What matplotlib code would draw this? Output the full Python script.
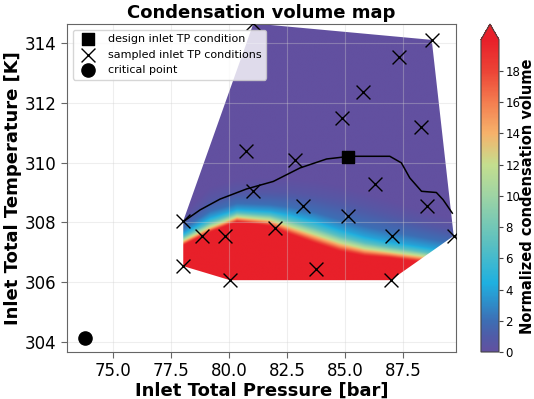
import numpy as np
import matplotlib
matplotlib.use('Agg')
import matplotlib.pyplot as plt
from matplotlib.colors import LinearSegmentedColormap
from matplotlib.patches import Polygon

# sampled inlet conditions (pressure [bar], temperature [K])
p_samp = [81.05, 88.75, 87.33, 85.78, 84.87, 88.28, 80.73, 82.84, 81.03, 86.30, 83.19, 85.13,
          88.53, 78.02, 78.84, 79.83, 81.98, 87.03, 89.70, 78.02, 80.04, 83.75, 86.98]
T_samp = [314.65, 314.10, 313.53, 312.35, 311.50, 311.20, 310.40, 310.07, 309.06, 309.30, 308.55, 308.20,
          308.55, 308.05, 307.55, 307.55, 307.80, 307.55, 307.55, 306.54, 306.07, 306.44, 306.07]

p_design, T_design = 85.15, 310.20
p_crit, T_crit = 73.77, 304.13

# black line through the design point
line_p = [78.03, 78.75, 79.61, 80.76, 81.91, 83.06, 84.21, 85.22, 86.94, 87.44, 87.80, 88.31, 88.95, 89.24, 89.64]
line_T = [308.03, 308.42, 308.78, 309.12, 309.37, 309.82, 310.12, 310.21, 310.21, 309.99, 309.49, 309.04, 309.00, 308.76, 308.31]

# condensation band: temperature where the normalised volume reaches 20, 12, 7, 4, 2, 0.6 and 0
band_p = [78.02, 79.18, 80.34, 81.77, 82.63, 83.71, 84.78, 85.86, 86.94, 88.36, 89.78]
band_T20 = [307.22, 307.66, 308.00, 307.86, 307.59, 307.29, 307.02, 306.86, 306.80, 306.66, 306.53]
band_T12 = [307.38, 307.83, 308.17, 308.07, 307.85, 307.58, 307.31, 307.11, 307.00, 306.86, 306.69]
band_T7 = [307.50, 307.98, 308.30, 308.22, 308.05, 307.80, 307.52, 307.30, 307.16, 307.00, 306.83]
band_T4 = [307.62, 308.14, 308.42, 308.36, 308.25, 308.04, 307.75, 307.51, 307.34, 307.17, 307.00]
band_T2 = [307.78, 308.36, 308.62, 308.58, 308.50, 308.32, 308.08, 307.86, 307.68, 307.48, 307.28]
band_T06 = [308.05, 308.76, 309.02, 309.02, 309.00, 308.90, 308.76, 308.54, 308.30, 307.98, 307.72]
band_T0 = [308.30, 309.20, 309.45, 309.50, 309.50, 309.40, 309.25, 309.00, 308.75, 308.40, 308.10]
band_levels = [20, 12, 7, 4, 2, 0.6, 0]

cbar_ticks = list(range(0, 20, 2))


def convex_hull(pts):
    pts = sorted(set(pts))

    def cross(o, a, b):
        return (a[0] - o[0]) * (b[1] - o[1]) - (a[1] - o[1]) * (b[0] - o[0])

    lower, upper = [], []
    for p in pts:
        while len(lower) >= 2 and cross(lower[-2], lower[-1], p) <= 0:
            lower.pop()
        lower.append(p)
    for p in reversed(pts):
        while len(upper) >= 2 and cross(upper[-2], upper[-1], p) <= 0:
            upper.pop()
        upper.append(p)
    return lower[:-1] + upper[:-1]


red = '#e8202a'
cmap = LinearSegmentedColormap.from_list('cond', [
    (0.0, '#6250a0'), (0.05, '#4f5ca8'), (0.1, '#3c6fb5'), (0.22, '#1fb0e0'), (0.35, '#5cc0c0'),
    (0.5, '#9ed4a4'), (0.6, '#c4de8e'), (0.7, '#f6b26b'), (0.8, '#f47e50'),
    (0.9, '#ec4436'), (1.0, red)])
cmap.set_over(red)

# raster of the field over the sampled region
xg = np.linspace(77.5, 90.2, 600)
yg = np.linspace(305.5, 315.0, 700)
levels_T = [np.interp(xg, band_p, t) for t in
            (band_T20, band_T12, band_T7, band_T4, band_T2, band_T06, band_T0)]
Z = np.empty((len(yg), len(xg)))
for j in range(len(xg)):
    Z[:, j] = np.interp(yg, [lt[j] for lt in levels_T], band_levels, left=30, right=0)

fig = plt.figure(figsize=(5.34, 3.99), dpi=100)
ax = fig.add_axes([0.1255, 0.1178, 0.7285, 0.822])
cax = fig.add_axes([0.9007, 0.1178, 0.0337, 0.822])

im = ax.imshow(Z, extent=[xg[0], xg[-1], yg[0], yg[-1]], origin='lower', aspect='auto',
               cmap=cmap, vmin=0, vmax=20, interpolation='bilinear', zorder=0)
hull = Polygon(convex_hull(list(zip(p_samp, T_samp))), closed=True, transform=ax.transData)
im.set_clip_path(hull)

ax.plot(line_p, line_T, color='black', lw=1.1, zorder=3)
ax.scatter([p_design], [T_design], marker='s', s=80, color='black', zorder=5,
           label='design inlet TP condition')
ax.scatter(p_samp, T_samp, marker='x', s=100, color='black', linewidths=1.0, zorder=4,
           label='sampled inlet TP conditions')
ax.scatter([p_crit], [T_crit], marker='o', s=90, color='black', zorder=5, label='critical point')

ax.set_xlim(73.0, 89.8)
ax.set_ylim(303.67, 314.63)
ax.set_xticks([75.0, 77.5, 80.0, 82.5, 85.0, 87.5])
ax.set_yticks([304, 306, 308, 310, 312, 314])
ax.grid(True, color='#d0d0d0', lw=0.8, alpha=0.35)
for s in ax.spines.values():
    s.set_color('#666666')
ax.tick_params(labelsize=12, length=4, color='#666666')

ax.set_title('Condensation volume map', fontsize=13, fontweight='bold', pad=4)
ax.set_xlabel('Inlet Total Pressure [bar]', fontsize=13, fontweight='bold', labelpad=1)
ax.set_ylabel('Inlet Total Temperature [K]', fontsize=13, fontweight='bold', labelpad=2)
ax.legend(loc='upper left', fontsize=8)

cbar = fig.colorbar(im, cax=cax, extend='max', ticks=cbar_ticks)
cbar.outline.set_edgecolor('#444444')
cbar.ax.tick_params(labelsize=8.5, length=3, pad=1.5, color='#444444')
cbar.set_label('Normalized condensation volume', fontsize=10.5, fontweight='bold', labelpad=0)

fig.savefig('out.png', dpi=100)
